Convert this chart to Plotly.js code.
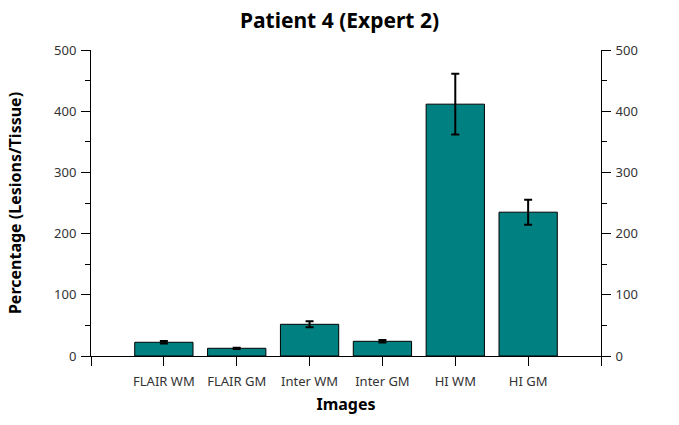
<!DOCTYPE html>
<html>
<head>
<meta charset="utf-8">
<script src="https://cdn.plot.ly/plotly-3.0.1.min.js"></script>
<style>html,body{margin:0;padding:0;background:#fff;}#chart{width:679px;height:425px;}</style>
</head>
<body>
<div id="chart"></div>
<script>
const categories = ["FLAIR WM", "FLAIR GM", "Inter WM", "Inter GM", "HI WM", "HI GM"];
const values = [22.4, 12.6, 51.8, 24.0, 411.5, 235.0];
const errors = [2.0, 1.0, 5.0, 2.0, 49.6, 20.4];
const yTicks = [0, 100, 200, 300, 400, 500];

const positions = categories.map((c, i) => i);
const font = "Noto Sans, Open Sans, DejaVu Sans, sans-serif";

const barTrace = {
  type: "bar",
  x: positions,
  y: values,
  width: 0.8,
  marker: {color: "#008080", line: {color: "#000", width: 1}},
  error_y: {type: "data", array: errors, visible: true, color: "#000", thickness: 2, width: 4},
  hoverinfo: "skip",
  showlegend: false
};
const ghost = {type: "scatter", x: [], y: [], yaxis: "y2", showlegend: false, hoverinfo: "skip"};

const tickVals = [-1].concat(positions, [categories.length]);
const tickText = [""].concat(categories, [""]);

const axisY = {
  range: [0, 500], tickvals: yTicks, ticks: "outside", ticklen: 9, tickwidth: 1, tickcolor: "#000",
  showline: true, linecolor: "#000", linewidth: 1, showgrid: false, zeroline: false,
  tickfont: {family: font, size: 13, color: "#333"}, ticklabelstandoff: 2,
  minor: {dtick: 50, ticks: "outside", ticklen: 5, tickcolor: "#000", showgrid: false}
};

const layout = {
  width: 679, height: 425,
  margin: {l: 91, r: 78, t: 50, b: 69},
  paper_bgcolor: "#fff", plot_bgcolor: "#fff",
  font: {family: font, color: "#333"},
  title: {text: "<b>Patient 4 (Expert 2)</b>", font: {family: font, size: 21, color: "#000"}, x: 0.5, xanchor: "center", y: 0.952, yanchor: "middle"},
  xaxis: {
    range: [-1, categories.length], tickmode: "array", tickvals: tickVals, ticktext: tickText,
    ticks: "outside", ticklen: 9, tickcolor: "#000", showline: true, linecolor: "#000", linewidth: 1,
    showgrid: false, zeroline: false, tickfont: {family: font, size: 13, color: "#333"}, ticklabelstandoff: 4,
    title: {text: "<b>Images</b>", font: {family: font, size: 16, color: "#000"}, standoff: 10}
  },
  yaxis: Object.assign({}, axisY, {
    title: {text: "<b>Percentage (Lesions/Tissue)</b>", font: {family: font, size: 16, color: "#000"}, standoff: 28}
  }),
  yaxis2: Object.assign({}, axisY, {overlaying: "y", side: "right"})
};

Plotly.newPlot("chart", [barTrace, ghost], layout, {staticPlot: true, displayModeBar: false});
</script>
</body>
</html>
